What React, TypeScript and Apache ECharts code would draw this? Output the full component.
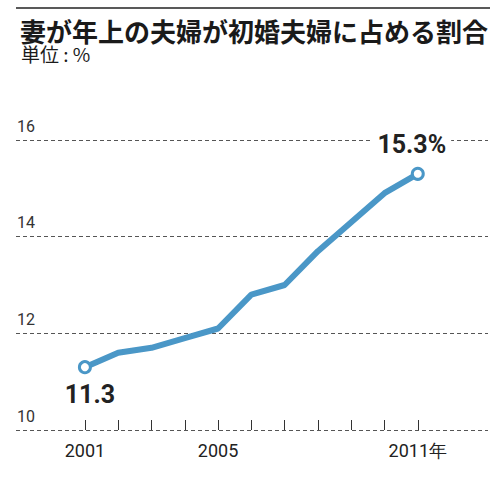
import * as echarts from "echarts";
import { useEffect, useRef } from "react";

const years = [2001, 2002, 2003, 2004, 2005, 2006, 2007, 2008, 2009, 2010, 2011];
const shares = [11.3, 11.6, 11.7, 11.9, 12.1, 12.8, 13.0, 13.7, 14.3, 14.9, 15.3];
const labeledYears = [2001, 2005, 2011];

const TITLE = "妻が年上の夫婦が初婚夫婦に占める割合";
const UNIT = "単位 : %";
const BLUE = "#4a97c7";
const NUM_FONT = '"Roboto", "Liberation Sans", sans-serif';
const CJK = '"Noto Sans CJK JP", sans-serif';

const App = () => {
  const chartRef = useRef<HTMLDivElement>(null);

  useEffect(() => {
    document.body.style.margin = "0";
    if (!chartRef.current) return;
    const myChart = echarts.init(chartRef.current, null, { renderer: "svg" });

    const last = years.length - 1;
    const data = years.map((y, i) => {
      const item: any = { value: [y, shares[i]] };
      if (i === 0 || i === last) {
        item.symbol = "circle";
        item.symbolSize = 11;
        item.label = {
          show: true,
          fontFamily: NUM_FONT,
          fontSize: 25,
          fontWeight: "bold",
          color: "#222",
          position: i === 0 ? "bottom" : "top",
          distance: i === 0 ? 8 : 10,
          offset: i === 0 ? [5, 0] : [-6, 0],
          formatter: i === 0 ? shares[i].toFixed(1) : shares[i].toFixed(1) + "%",
          backgroundColor: i === 0 ? "transparent" : "#fff",
          padding: [0, 5],
        };
      }
      return item;
    });

    const option = {
      animation: false,
      graphic: [
        {
          type: "line",
          shape: { x1: 16, y1: 8, x2: 490, y2: 8 },
          style: { stroke: "#222", lineWidth: 1.5 },
        },
        {
          type: "text",
          left: 20,
          top: 17,
          style: {
            text: TITLE,
            fontFamily: CJK,
            fontSize: 26,
            lineHeight: 26,
            fontWeight: "bold",
            fill: "#1a1a1a",
          },
        },
        {
          type: "text",
          left: 21,
          top: 44,
          style: { text: UNIT, fontFamily: CJK, fontSize: 19, lineHeight: 18, fill: "#1a1a1a" },
        },
      ],
      grid: { left: 16, right: 12, top: 140, bottom: 70 },
      xAxis: {
        type: "value",
        min: 1998.93,
        max: 2013.11,
        axisLine: { show: false },
        splitLine: { show: false },
        axisTick: {
          show: true,
          inside: true,
          length: 10,
          customValues: years,
          lineStyle: { color: "#333", width: 1 },
        },
        axisLabel: {
          customValues: labeledYears,
          formatter: (v: number) => (v === 2011 ? v + "年" : String(v)),
          fontFamily: NUM_FONT,
          fontSize: 18,
          color: "#222",
          margin: 11,
        },
      },
      yAxis: {
        type: "value",
        min: 10,
        max: 16,
        interval: 2,
        axisLine: { show: false },
        axisTick: { show: false },
        splitLine: { show: true, lineStyle: { color: "#555", width: 1, type: [4, 3] } },
        axisLabel: {
          inside: true,
          margin: 1,
          verticalAlign: "bottom",
          padding: [0, 0, 6, 0],
          fontFamily: NUM_FONT,
          fontSize: 16,
          color: "#333",
        },
      },
      series: [
        {
          type: "line",
          data: data,
          symbol: "none",
          showSymbol: true,
          lineStyle: { color: BLUE, width: 6 },
          itemStyle: { color: "#fff", borderColor: BLUE, borderWidth: 3 },
          z: 3,
        },
      ],
    };

    myChart.setOption(option);

    return () => {
      myChart.dispose();
    };
  }, []);

  return <div ref={chartRef} style={{ width: 500, height: 500 }} />;
};

export default App;
